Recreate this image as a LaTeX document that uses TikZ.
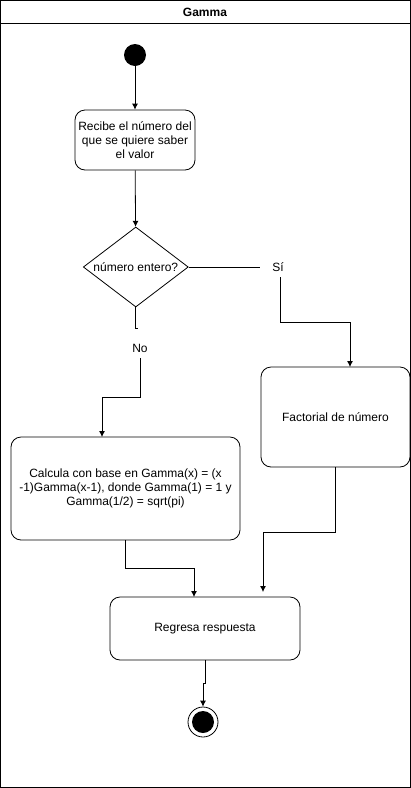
\documentclass[tikz,border=0pt]{standalone}
\usepackage{fontspec}
\setmainfont{Liberation Sans}
\usetikzlibrary{shapes.geometric,arrows.meta}
\begin{document}
\begin{tikzpicture}[x=1pt,y=-1pt,
  every node/.style={font=\fontsize{12}{14}\selectfont},
  act/.style={draw,rounded corners=10pt,align=center,inner sep=0pt,line width=0.8pt},
  flow/.style={draw,line width=0.8pt,-{Latex[length=6pt,width=6pt]}},
  lbl/.style={fill=white,inner sep=0pt}]
\useasboundingbox (0,0) rectangle (411,788);
\draw[line width=0.8pt] (0.5,0.5) rectangle (410.5,787.5);
\draw[line width=0.8pt] (0.5,23) -- (410.5,23);
\node[font=\fontsize{12}{14}\selectfont\bfseries] (title) at (205,12) {Gamma};
\node[circle,fill=black,minimum size=22pt,inner sep=0pt] (start) at (135,55) {};
\node[act,minimum width=120pt,minimum height=60pt] (recibe) at (135,140) {Recibe el número del\\que se quiere saber\\el valor};
\node[diamond,draw,line width=0.8pt,shape aspect=1.3125,minimum width=105pt,minimum height=80pt,inner sep=0pt] (dia) at (135.8,267) {número entero?};
\node[act,minimum width=149pt,minimum height=100pt] (fact) at (335.5,417) {Factorial de número};
\node[act,minimum width=229pt,minimum height=103pt] (calc) at (125.5,488.5) {Calcula con base en Gamma(x) = (x\\-1)Gamma(x-1), donde Gamma(1) = 1 y\\Gamma(1/2) = sqrt(pi)};
\node[act,minimum width=190pt,minimum height=63pt] (resp) at (205,628.5) {Regresa respuesta};
\node[circle,draw,line width=0.8pt,minimum size=30pt,inner sep=0pt] (end) at (203,722) {};
\node[circle,fill=black,minimum size=22pt,inner sep=0pt] (endin) at (end.center) {};
% connectors
\draw[flow] (start) -- (recibe);
\draw[flow] (recibe) -- (dia);
\draw[flow] (dia.east) -- (280.7,267) -- (280.7,322) -- (350,322) -- (350,367);
\node[lbl,minimum width=36pt,minimum height=20pt] (si) at (278,267) {Sí};
\draw[flow] (dia.south) -- (135.8,328) -- (137.3,328) -- (137.3,345) -- (140,345) -- (140,397) -- (102,397) -- (102,437);
\node[lbl,anchor=base,text height=23pt,text depth=6pt,minimum width=22pt] (no) at (140,352) {No};
\draw[flow] (calc.south) -- (125.5,568) -- (194,568) -- (194,597);
\draw[flow] (fact.south) -- (335.5,532) -- (263,532) -- (263,592);
\draw[flow] (resp.south) -- (205,683) -- (203,683) -- (end.north);
\end{tikzpicture}
\end{document}
